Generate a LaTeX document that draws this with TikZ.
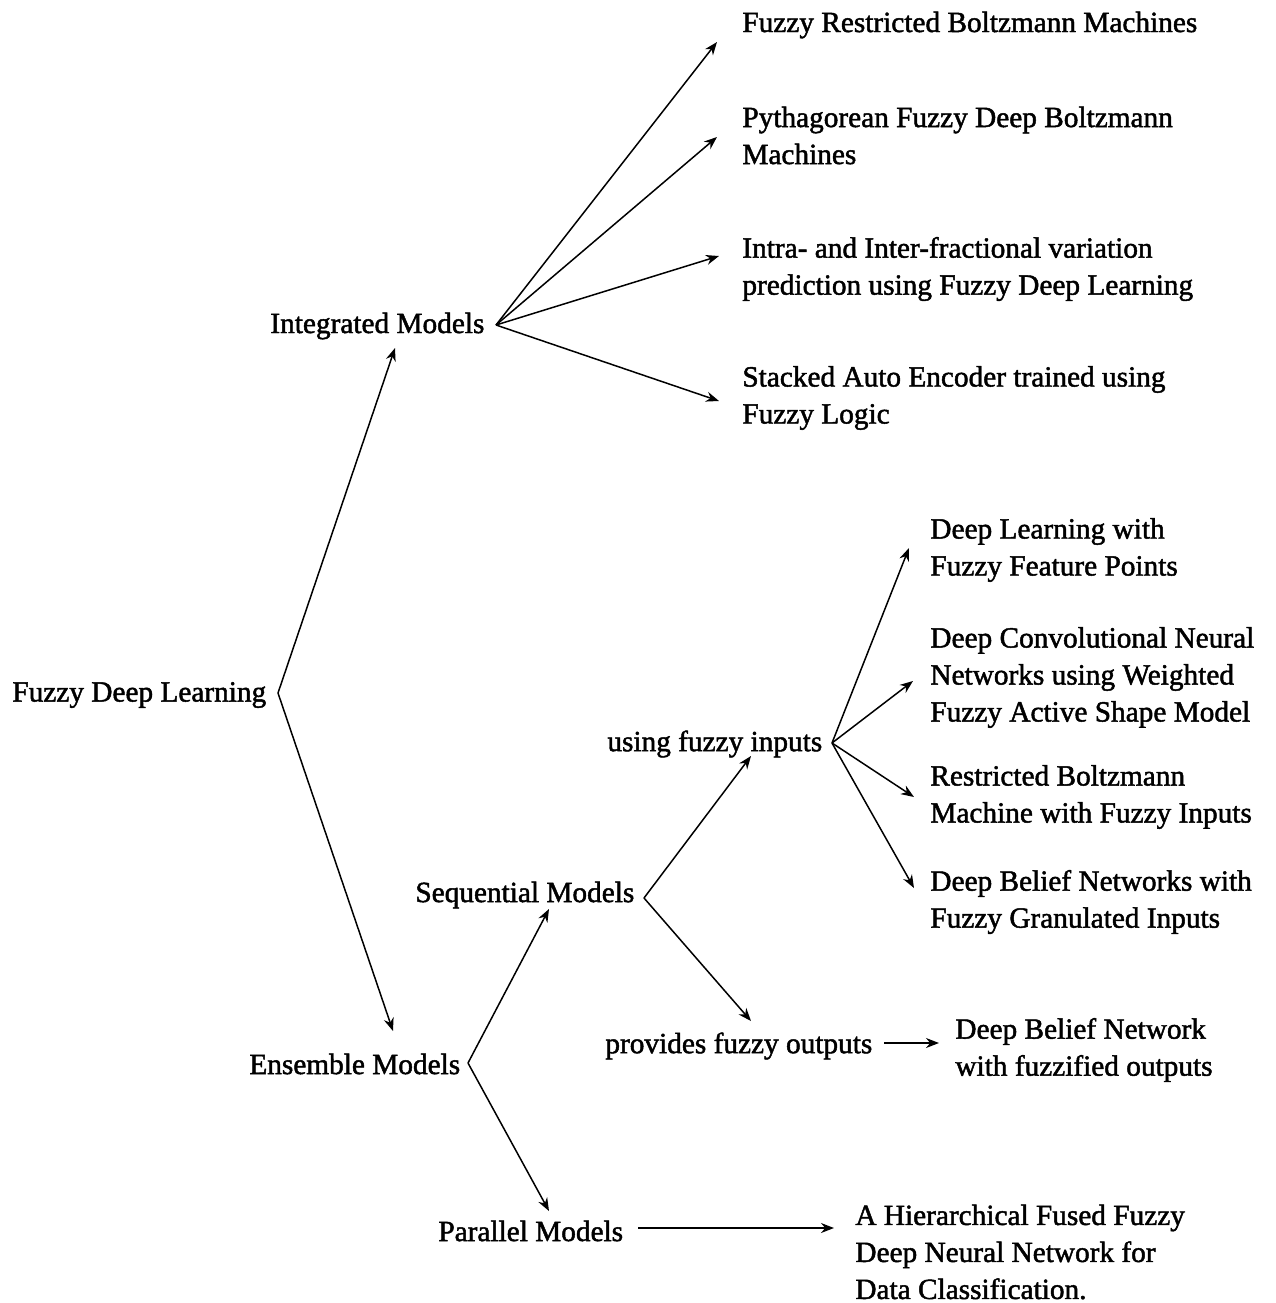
\documentclass[tikz,border=0pt]{standalone}
\usepackage{fontspec}
\setmainfont{Liberation Serif}[FakeBold=1.6]
\usetikzlibrary{arrows.meta}
\begin{document}
\begin{tikzpicture}[x=0.5pt,y=-0.5pt,
  lbl/.style={anchor=west,inner sep=0pt,align=left,yshift=-1.5pt,
    font=\fontsize{14.65pt}{18.5pt}\selectfont},
  arr/.style={line width=0.75pt,-{Stealth[length=6.5pt,width=5pt]}}]
\useasboundingbox (0,0) rectangle (1276,1303);

% labels
\node[lbl] (fdl) at (12,692) {Fuzzy Deep Learning};
\node[lbl] (im)  at (270,323) {Integrated Models};
\node[lbl] (em)  at (249,1061) {Ensemble Models};
\node[lbl] (frbm) at (742,22) {Fuzzy Restricted Boltzmann Machines};
\node[lbl] (pfdb) at (742,132.5) {Pythagorean Fuzzy Deep Boltzmann\\Machines};
\node[lbl] (iifv) at (742,266) {Intra- and Inter-fractional variation\\prediction using Fuzzy Deep Learning};
\node[lbl] (sae) at (742,395) {Stacked Auto Encoder trained using\\Fuzzy Logic};
\node[lbl] (sm) at (415,892) {Sequential Models};
\node[lbl] (pm) at (438,1228) {Parallel Models};
\node[lbl] (ufi) at (607,741) {using fuzzy inputs};
\node[lbl] (pfo) at (605,1043) {provides fuzzy outputs};
\node[lbl] (dbn) at (955,1047) {Deep Belief Network\\with fuzzified outputs};
\node[lbl] (hff) at (855,1249) {A Hierarchical Fused Fuzzy\\Deep Neural Network for\\Data Classification.};
\node[lbl] (dlf) at (930,547) {Deep Learning with\\Fuzzy Feature Points};
\node[lbl] (dcnn) at (930,674.5) {Deep Convolutional Neural\\Networks using Weighted\\Fuzzy Active Shape Model};
\node[lbl] (rbm) at (930,794) {Restricted Boltzmann\\Machine with Fuzzy Inputs};
\node[lbl] (dbnf) at (930,899) {Deep Belief Networks with\\Fuzzy Granulated Inputs};

% fan-out points and arrow tips
\coordinate (fdl-o) at (278,693);
\coordinate (im-i) at (395,348);
\coordinate (em-i) at (393,1031);
\coordinate (im-o) at (496,325);
\coordinate (frbm-i) at (717,42);
\coordinate (pfdb-i) at (717,137);
\coordinate (iifv-i) at (719,256);
\coordinate (sae-i) at (719,401);
\coordinate (em-o) at (468,1063);
\coordinate (sm-i) at (549,909);
\coordinate (pm-i) at (549,1211);
\coordinate (sm-o) at (644,898);
\coordinate (ufi-i) at (751,756);
\coordinate (pfo-i) at (751,1021);
\coordinate (ufi-o) at (832,743);
\coordinate (dlf-i) at (909,548);
\coordinate (dcnn-i) at (913,681);
\coordinate (rbm-i) at (914,797);
\coordinate (dbnf-i) at (914,888);
\coordinate (pfo-o) at (884,1043);
\coordinate (dbn-i) at (939,1043);
\coordinate (pm-o) at (638,1228);
\coordinate (hff-i) at (834,1228);

% connectors
\draw[arr] (fdl-o) -- (im-i);
\draw[arr] (fdl-o) -- (em-i);
\foreach \t in {frbm-i,pfdb-i,iifv-i,sae-i} \draw[arr] (im-o) -- (\t);
\draw[arr] (em-o) -- (sm-i);
\draw[arr] (em-o) -- (pm-i);
\draw[arr] (sm-o) -- (ufi-i);
\draw[arr] (sm-o) -- (pfo-i);
\foreach \t in {dlf-i,dcnn-i,rbm-i,dbnf-i} \draw[arr] (ufi-o) -- (\t);
\draw[arr] (pfo-o) -- (dbn-i);
\draw[arr] (pm-o) -- (hff-i);
\end{tikzpicture}
\end{document}
